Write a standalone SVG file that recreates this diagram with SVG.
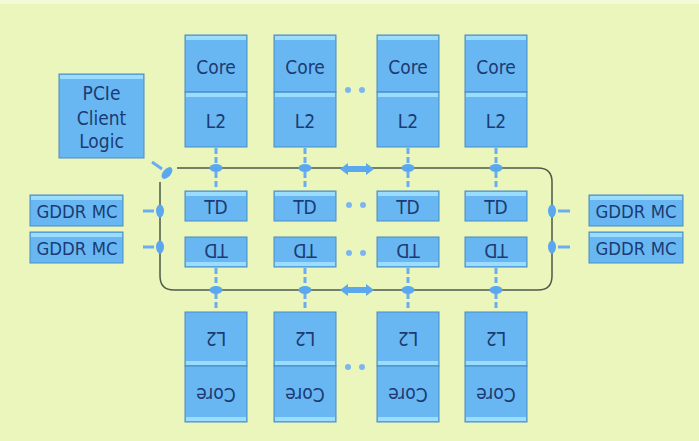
<svg xmlns="http://www.w3.org/2000/svg" width="699" height="441" viewBox="0 0 699 441">
<defs>
<style>
.box{fill:#68B7F2;stroke:#4A8CC4;stroke-width:1}
.hi{fill:#9ADDFF}
.t{font-family:"DejaVu Sans Condensed","DejaVu Sans","Liberation Sans",sans-serif;font-stretch:condensed;font-size:19px;fill:#1B3B72;text-anchor:middle}
.g{font-size:18px}
.ring{fill:none;stroke:#4E5A4A;stroke-width:1.5}
.dash{stroke:#6AAEF0;stroke-width:3;stroke-dasharray:6,3;fill:none}
.sd{stroke:#6AAEF0;stroke-width:3;fill:none}
.nd{fill:#5BA8EE}
.dot{fill:#7DB6EE}
.arr{fill:#5BA8EE}
</style>
</defs>
<rect x="0" y="0" width="699" height="441" fill="#EBF6BD"/>
<rect x="0" y="0" width="699" height="4" fill="#F3FAD5"/>

<g id="connectors">
<path class="ring" d="M177 168 H538 Q552 168 552 182 V276 Q552 290 538 290 H174 Q160 290 160 276 V182"/>
<g class="dash">
<path d="M216 148 V166 M216 172 V190"/>
<path d="M305 148 V166 M305 172 V190"/>
<path d="M408 148 V166 M408 172 V190"/>
<path d="M496 148 V166 M496 172 V190"/>
<path d="M216 268 V287 M216 293 V311"/>
<path d="M305 268 V287 M305 293 V311"/>
<path d="M408 268 V287 M408 293 V311"/>
<path d="M496 268 V287 M496 293 V311"/>
</g>
<g class="sd">
<path d="M143 211 H154"/><path d="M143 247 H154"/>
<path d="M558 211 H570"/><path d="M558 247 H570"/>
<path d="M152 162 L162 169"/>
</g>
<g class="nd">
<ellipse cx="216" cy="168" rx="6.5" ry="4"/><ellipse cx="305" cy="168" rx="6.5" ry="4"/>
<ellipse cx="408" cy="168" rx="6.5" ry="4"/><ellipse cx="496" cy="168" rx="6.5" ry="4"/>
<ellipse cx="216" cy="290" rx="6.5" ry="4"/><ellipse cx="305" cy="290" rx="6.5" ry="4"/>
<ellipse cx="408" cy="290" rx="6.5" ry="4"/><ellipse cx="496" cy="290" rx="6.5" ry="4"/>
<ellipse cx="160" cy="211" rx="4" ry="6.5"/><ellipse cx="160" cy="247" rx="4" ry="6.5"/>
<ellipse cx="552" cy="211" rx="4" ry="6.5"/><ellipse cx="552" cy="247" rx="4" ry="6.5"/>
<ellipse cx="167" cy="173" rx="4" ry="7" transform="rotate(40 167 173)"/>
</g>
<g class="arr">
<polygon points="340,169 348,163 348,166 366,166 366,163 374,169 366,175 366,172 348,172 348,175"/>
<polygon points="340,290 348,284 348,287 366,287 366,284 374,290 366,296 366,293 348,293 348,296"/>
</g>
<g class="dot">
<circle cx="348" cy="90" r="3"/><circle cx="362" cy="90" r="3"/>
<circle cx="349" cy="205" r="3"/><circle cx="363" cy="205" r="3"/>
<circle cx="349" cy="253" r="3"/><circle cx="363" cy="253" r="3"/>
<circle cx="348" cy="367" r="3"/><circle cx="362" cy="367" r="3"/>
</g>
</g>

<g id="pcie">
<rect class="box" x="59" y="74" width="85" height="84"/><rect class="hi" x="60" y="75" width="83" height="4"/>
<text class="t" x="101.5" y="100">PCIe</text>
<text class="t" x="101.5" y="125">Client</text>
<text class="t" x="101.5" y="148">Logic</text>
</g>

<g id="gddr-l1"><rect class="box" x="30" y="195" width="93" height="31"/><rect class="hi" x="31" y="196" width="91" height="4"/>
<text class="t g" x="77" y="218" textLength="81" lengthAdjust="spacingAndGlyphs">GDDR MC</text></g>
<g id="gddr-l2"><rect class="box" x="30" y="232" width="93" height="31"/><rect class="hi" x="31" y="233" width="91" height="4"/>
<text class="t g" x="77" y="255" textLength="81" lengthAdjust="spacingAndGlyphs">GDDR MC</text></g>
<g id="gddr-r1"><rect class="box" x="589" y="195" width="94" height="31"/><rect class="hi" x="590" y="196" width="92" height="4"/>
<text class="t g" x="636" y="218" textLength="81" lengthAdjust="spacingAndGlyphs">GDDR MC</text></g>
<g id="gddr-r2"><rect class="box" x="589" y="232" width="94" height="31"/><rect class="hi" x="590" y="233" width="92" height="4"/>
<text class="t g" x="636" y="255" textLength="81" lengthAdjust="spacingAndGlyphs">GDDR MC</text></g>

<g id="top-core-1"><rect class="box" x="185" y="35" width="62" height="57"/><rect class="hi" x="186" y="36" width="60" height="4"/><text class="t" x="216" y="74">Core</text></g>
<g id="top-l2-1"><rect class="box" x="185" y="92" width="62" height="55"/><rect class="hi" x="186" y="93" width="60" height="4"/><text class="t" x="216" y="128">L2</text></g>
<g id="top-core-2"><rect class="box" x="274" y="35" width="62" height="57"/><rect class="hi" x="275" y="36" width="60" height="4"/><text class="t" x="305" y="74">Core</text></g>
<g id="top-l2-2"><rect class="box" x="274" y="92" width="62" height="55"/><rect class="hi" x="275" y="93" width="60" height="4"/><text class="t" x="305" y="128">L2</text></g>
<g id="top-core-3"><rect class="box" x="377" y="35" width="62" height="57"/><rect class="hi" x="378" y="36" width="60" height="4"/><text class="t" x="408" y="74">Core</text></g>
<g id="top-l2-3"><rect class="box" x="377" y="92" width="62" height="55"/><rect class="hi" x="378" y="93" width="60" height="4"/><text class="t" x="408" y="128">L2</text></g>
<g id="top-core-4"><rect class="box" x="465" y="35" width="62" height="57"/><rect class="hi" x="466" y="36" width="60" height="4"/><text class="t" x="496" y="74">Core</text></g>
<g id="top-l2-4"><rect class="box" x="465" y="92" width="62" height="55"/><rect class="hi" x="466" y="93" width="60" height="4"/><text class="t" x="496" y="128">L2</text></g>

<g id="td-top-1"><rect class="box" x="185" y="191" width="62" height="30"/><rect class="hi" x="186" y="192" width="60" height="4"/><text class="t" x="216" y="214">TD</text></g>
<g id="td-top-2"><rect class="box" x="274" y="191" width="62" height="30"/><rect class="hi" x="275" y="192" width="60" height="4"/><text class="t" x="305" y="214">TD</text></g>
<g id="td-top-3"><rect class="box" x="377" y="191" width="62" height="30"/><rect class="hi" x="378" y="192" width="60" height="4"/><text class="t" x="408" y="214">TD</text></g>
<g id="td-top-4"><rect class="box" x="465" y="191" width="62" height="30"/><rect class="hi" x="466" y="192" width="60" height="4"/><text class="t" x="496" y="214">TD</text></g>

<g id="td-bot-1" transform="rotate(180 216 252)"><rect class="box" x="185" y="237" width="62" height="30"/><rect class="hi" x="186" y="238" width="60" height="4"/><text class="t" x="216" y="260">TD</text></g>
<g id="td-bot-2" transform="rotate(180 305 252)"><rect class="box" x="274" y="237" width="62" height="30"/><rect class="hi" x="275" y="238" width="60" height="4"/><text class="t" x="305" y="260">TD</text></g>
<g id="td-bot-3" transform="rotate(180 408 252)"><rect class="box" x="377" y="237" width="62" height="30"/><rect class="hi" x="378" y="238" width="60" height="4"/><text class="t" x="408" y="260">TD</text></g>
<g id="td-bot-4" transform="rotate(180 496 252)"><rect class="box" x="465" y="237" width="62" height="30"/><rect class="hi" x="466" y="238" width="60" height="4"/><text class="t" x="496" y="260">TD</text></g>

<g id="bot-l2-1" transform="rotate(180 216 339)"><rect class="box" x="185" y="312" width="62" height="54"/><rect class="hi" x="186" y="313" width="60" height="4"/><text class="t" x="216" y="346">L2</text></g>
<g id="bot-core-1" transform="rotate(180 216 394)"><rect class="box" x="185" y="366" width="62" height="56"/><rect class="hi" x="186" y="367" width="60" height="4"/><text class="t" x="216" y="400">Core</text></g>
<g id="bot-l2-2" transform="rotate(180 305 339)"><rect class="box" x="274" y="312" width="62" height="54"/><rect class="hi" x="275" y="313" width="60" height="4"/><text class="t" x="305" y="346">L2</text></g>
<g id="bot-core-2" transform="rotate(180 305 394)"><rect class="box" x="274" y="366" width="62" height="56"/><rect class="hi" x="275" y="367" width="60" height="4"/><text class="t" x="305" y="400">Core</text></g>
<g id="bot-l2-3" transform="rotate(180 408 339)"><rect class="box" x="377" y="312" width="62" height="54"/><rect class="hi" x="378" y="313" width="60" height="4"/><text class="t" x="408" y="346">L2</text></g>
<g id="bot-core-3" transform="rotate(180 408 394)"><rect class="box" x="377" y="366" width="62" height="56"/><rect class="hi" x="378" y="367" width="60" height="4"/><text class="t" x="408" y="400">Core</text></g>
<g id="bot-l2-4" transform="rotate(180 496 339)"><rect class="box" x="465" y="312" width="62" height="54"/><rect class="hi" x="466" y="313" width="60" height="4"/><text class="t" x="496" y="346">L2</text></g>
<g id="bot-core-4" transform="rotate(180 496 394)"><rect class="box" x="465" y="366" width="62" height="56"/><rect class="hi" x="466" y="367" width="60" height="4"/><text class="t" x="496" y="400">Core</text></g>
</svg>
